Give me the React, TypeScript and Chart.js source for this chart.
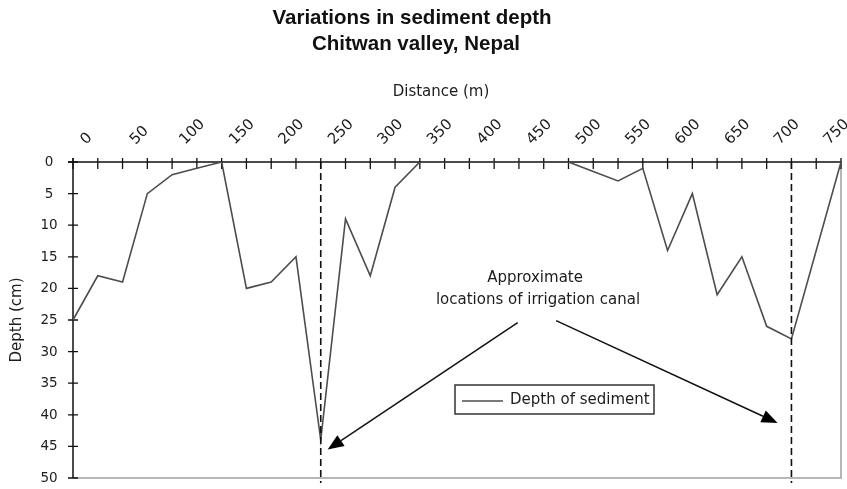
import React, { useEffect, useRef } from "react";
import { Chart, registerables } from "chart.js";

Chart.register(...registerables);

// ---- data ----
const distanceLabels = [
  "0", "", "50", "", "100", "", "150", "", "200", "", "250", "", "300", "", "350", "",
  "400", "", "450", "", "500", "", "550", "", "600", "", "650", "", "700", "", "750", "",
];
const sedimentDepth = [
  25, 18, 19, 5, 2, 1, 0, 20, 19, 15, 44, 9, 18, 4, 0, 0,
  0, 0, 0, 0, 0, 1.5, 3, 1, 14, 5, 21, 15, 26, 28, 14, 0,
];
const depthTicks = [0, 5, 10, 15, 20, 25, 30, 35, 40, 45, 50];
const canalIndices = [10, 29];
const titleLines = ["Variations in sediment depth", "Chitwan valley, Nepal"];
const xAxisTitle = "Distance (m)";
const yAxisTitle = "Depth (cm)";
const legendLabel = "Depth of sediment";
const annotationLines = ["Approximate", "locations of irrigation canal"];
// annotation anchor (category index, depth) and arrow ends
const annotationAnchor = [18.65, 18.4];
const arrowStarts = [[17.95, 25.4], [19.5, 25.1]];
const arrowTips = [[10.28, 45.5], [28.44, 41.3]];

const SANS = "'DejaVu Sans', sans-serif";
const TITLE_FONT = "bold 20.5px 'Liberation Sans', Arial, sans-serif";
const TEXT = "#1c1c1c";

function drawArrow(ctx: CanvasRenderingContext2D, x0: number, y0: number, x1: number, y1: number) {
  const ang = Math.atan2(y1 - y0, x1 - x0);
  const len = 16;
  const hw = 6.5;
  const bx = x1 - len * Math.cos(ang);
  const by = y1 - len * Math.sin(ang);
  ctx.beginPath();
  ctx.moveTo(x0, y0);
  ctx.lineTo(bx, by);
  ctx.stroke();
  ctx.beginPath();
  ctx.moveTo(x1, y1);
  ctx.lineTo(bx + hw * Math.sin(ang), by - hw * Math.cos(ang));
  ctx.lineTo(bx - hw * Math.sin(ang), by + hw * Math.cos(ang));
  ctx.closePath();
  ctx.fill();
}

const overlayPlugin = {
  id: "overlay",
  beforeDatasetsDraw(chart: any) {
    const { ctx, chartArea: a, scales } = chart;
    const x = scales.x;
    const y = scales.y;
    ctx.save();
    // plot-area border (right & bottom, grey)
    ctx.strokeStyle = "#a0a0a0";
    ctx.lineWidth = 1.5;
    ctx.beginPath();
    ctx.moveTo(a.left, a.bottom);
    ctx.lineTo(a.right, a.bottom);
    ctx.lineTo(a.right, a.top);
    ctx.stroke();
    // axes (top & left, black)
    ctx.strokeStyle = "#111";
    ctx.lineWidth = 1.5;
    ctx.beginPath();
    ctx.moveTo(a.left - 5, a.top);
    ctx.lineTo(a.right, a.top);
    ctx.moveTo(a.left, a.top - 4);
    ctx.lineTo(a.left, a.bottom);
    ctx.stroke();
    // crossing tick marks
    ctx.lineWidth = 1.3;
    ctx.beginPath();
    for (let i = 0; i < distanceLabels.length; i++) {
      const px = x.getPixelForValue(i);
      ctx.moveTo(px, a.top - 4);
      ctx.lineTo(px, a.top + 7);
    }
    for (const v of depthTicks) {
      const py = y.getPixelForValue(v);
      ctx.moveTo(a.left - 5, py);
      ctx.lineTo(a.left + 5, py);
    }
    ctx.stroke();

    // tick labels
    ctx.fillStyle = TEXT;
    ctx.font = "15px " + SANS;
    ctx.textAlign = "left";
    ctx.textBaseline = "alphabetic";
    for (let i = 0; i < distanceLabels.length; i++) {
      const lbl = distanceLabels[i];
      if (!lbl) continue;
      const px = x.getPixelForValue(i);
      ctx.save();
      ctx.translate(px + 13, a.top - 17);
      ctx.rotate(-Math.PI / 4);
      ctx.fillText(lbl, 0, 0);
      ctx.restore();
    }
    ctx.font = "13.5px " + SANS;
    ctx.textAlign = "center";
    ctx.textBaseline = "middle";
    for (const v of depthTicks) {
      ctx.fillText(String(v), a.left - 24, y.getPixelForValue(v) + 0.5);
    }
    ctx.restore();
  },
  afterDatasetsDraw(chart: any) {
    const { ctx, chartArea: a, scales } = chart;
    const x = scales.x;
    const y = scales.y;
    ctx.save();
    // canal dashed lines
    ctx.strokeStyle = "#111";
    ctx.lineWidth = 1.6;
    ctx.setLineDash([7, 4]);
    ctx.beginPath();
    for (const ci of canalIndices) {
      const px = x.getPixelForValue(ci);
      ctx.moveTo(px, a.top);
      ctx.lineTo(px, a.bottom + 5);
    }
    ctx.stroke();
    ctx.setLineDash([]);
    // arrows
    ctx.strokeStyle = "#111";
    ctx.fillStyle = "#000";
    ctx.lineWidth = 1.5;
    for (let k = 0; k < arrowStarts.length; k++) {
      drawArrow(
        ctx,
        x.getPixelForValue(arrowStarts[k][0]),
        y.getPixelForValue(arrowStarts[k][1]),
        x.getPixelForValue(arrowTips[k][0]),
        y.getPixelForValue(arrowTips[k][1])
      );
    }
    // annotation text
    ctx.fillStyle = TEXT;
    ctx.font = "15px " + SANS;
    ctx.textAlign = "center";
    ctx.textBaseline = "middle";
    const ax = x.getPixelForValue(annotationAnchor[0]);
    const ay = y.getPixelForValue(annotationAnchor[1]);
    ctx.fillText(annotationLines[0], ax, ay);
    ctx.fillText(annotationLines[1], ax + 3, ay + 22);
    // legend
    const lx = 455;
    const ly = 385;
    const lw = 199;
    const lh = 29;
    ctx.fillStyle = "#fff";
    ctx.fillRect(lx, ly, lw, lh);
    ctx.strokeStyle = "#333";
    ctx.lineWidth = 1.5;
    ctx.strokeRect(lx, ly, lw, lh);
    ctx.strokeStyle = "#4d4d4d";
    ctx.lineWidth = 1.6;
    ctx.beginPath();
    ctx.moveTo(lx + 7, ly + 16);
    ctx.lineTo(lx + 48, ly + 16);
    ctx.stroke();
    ctx.fillStyle = TEXT;
    ctx.textAlign = "left";
    ctx.fillText(legendLabel, lx + 55, ly + 15.5);
    ctx.restore();
  },
  afterDraw(chart: any) {
    const { ctx, chartArea: a } = chart;
    ctx.save();
    ctx.fillStyle = "#111";
    ctx.textAlign = "center";
    ctx.textBaseline = "middle";
    ctx.font = TITLE_FONT;
    ctx.fillText(titleLines[0], 412, 18.5);
    ctx.fillText(titleLines[1], 416, 44.5);
    ctx.font = "15px " + SANS;
    ctx.fillStyle = TEXT;
    ctx.fillText(xAxisTitle, 441, 92);
    ctx.translate(17, (a.top + a.bottom) / 2);
    ctx.rotate(-Math.PI / 2);
    ctx.fillText(yAxisTitle, 0, 0);
    ctx.restore();
  },
};

function fixX(s: any) {
  s.height = 162;
  s.paddingLeft = 0;
  s.paddingRight = 0;
  s.paddingTop = 0;
  s.paddingBottom = 0;
}
function fixY(s: any) {
  s.width = 73;
  s.paddingLeft = 0;
  s.paddingRight = 0;
  s.paddingTop = 0;
  s.paddingBottom = 0;
}

export default function App() {
  const canvasRef = useRef<HTMLCanvasElement | null>(null);

  useEffect(() => {
    const canvas = canvasRef.current;
    if (!canvas) return;
    const chart = new Chart(canvas, {
      type: "line",
      data: {
        labels: distanceLabels,
        datasets: [
          {
            label: legendLabel,
            data: sedimentDepth,
            borderColor: "#4d4d4d",
            borderWidth: 1.6,
            pointRadius: 0,
            tension: 0,
            fill: false,
          },
        ],
      },
      options: {
        responsive: false,
        animation: false,
        layout: { padding: { left: 0, top: 0, right: 6, bottom: 11 }, autoPadding: false },
        plugins: {
          legend: { display: false },
          title: { display: false },
          tooltip: { enabled: false },
        },
        scales: {
          x: {
            type: "category",
            position: "top",
            offset: false,
            grid: { display: false, drawTicks: false },
            border: { display: false },
            ticks: { display: false, autoSkip: false, padding: 0 },
            afterFit: fixX,
          },
          y: {
            type: "linear",
            reverse: true,
            min: 0,
            max: 50,
            grid: { display: false, drawTicks: false },
            border: { display: false },
            ticks: { display: false, stepSize: 5, padding: 0 },
            afterFit: fixY,
          },
        },
      },
      plugins: [overlayPlugin],
    });
    return () => chart.destroy();
  }, []);

  return (
    <div style={{ position: "fixed", left: 0, top: 0, width: 847, height: 489, background: "#fff", overflow: "hidden" }}>
      <canvas ref={canvasRef} width={847} height={489} style={{ display: "block", width: 847, height: 489 }} />
    </div>
  );
}
